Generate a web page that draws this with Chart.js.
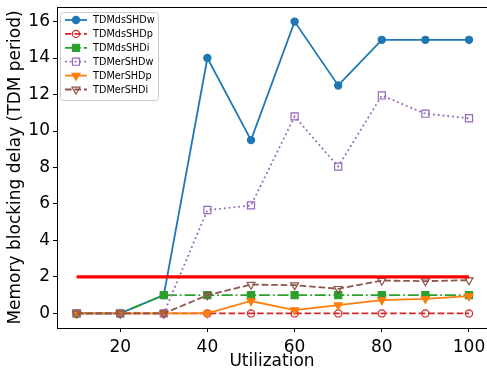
<!DOCTYPE html>
<html>
<head>
<meta charset="utf-8">
<script src="https://cdn.jsdelivr.net/npm/chart.js@4.4.1/dist/chart.umd.min.js"></script>
<style>
  html, body { margin: 0; padding: 0; background: #fff; overflow: hidden; }
  #wrap { width: 487px; height: 370px; }
  canvas { display: block; }
</style>
</head>
<body>
<div id="wrap"><canvas id="delaychart" width="487" height="370"></canvas></div>
<script>
const utilization = [10, 20, 30, 40, 50, 60, 70, 80, 90, 100];
const tdmdsShdW = [0, 0, 1, 14, 9.5, 16, 12.5, 15, 15, 15];
const tdmdsShdP = [0, 0, 0, 0, 0, 0, 0, 0, 0, 0];
const tdmdsShdI = [0, 0, 1, 1, 1, 1, 1, 1, 1, 1];
const tdmerShdW = [0, 0, 0, 5.67, 5.92, 10.8, 8.05, 11.95, 10.95, 10.7];
const tdmerShdP = [0, 0, 0, 0, 0.68, 0.18, 0.45, 0.73, 0.8, 0.95];
const tdmerShdI = [0, 0, 0, 1, 1.58, 1.55, 1.35, 1.8, 1.77, 1.82];
const limitX = [10, 100];
const limitY = [2, 2];
const yTicks = [0, 2, 4, 6, 8, 10, 12, 14, 16];
const xTicks = [20, 40, 60, 80, 100];

const pts = (xs, ys) => xs.map((x, i) => ({x: x, y: ys[i]}));
const FONT = "'DejaVu Sans', sans-serif";

const series = [
    {label: 'TDMdsSHDw', data: tdmdsShdW, color: '#1f77b4', dash: [], style: 'circle', r: 3.6, fill: true, rot: 0},
    {label: 'TDMdsSHDp', data: tdmdsShdP, color: '#d62728', dash: [6.6, 2.9], style: 'circle', r: 3.6, fill: false, rot: 0},
    {label: 'TDMdsSHDi', data: tdmdsShdI, color: '#2ca02c', dash: [11, 2.9, 1.8, 2.9], style: 'rect', r: 5, fill: true, rot: 0},
    {label: 'TDMerSHDw', data: tdmerShdW, color: '#9467bd', dash: [1.8, 3], style: 'rect', r: 5, fill: false, rot: 0},
    {label: 'TDMerSHDp', data: tdmerShdP, color: '#ff7f0e', dash: [], style: 'triangle', r: 4.6, fill: true, rot: 180},
    {label: 'TDMerSHDi', data: tdmerShdI, color: '#8c564b', dash: [6.6, 2.9], style: 'triangle', r: 4.6, fill: false, rot: 180}
];

const datasets = series.map((s, i) => ({
    label: s.label,
    data: pts(utilization, s.data),
    borderColor: s.color,
    backgroundColor: s.fill ? s.color : 'rgba(0,0,0,0)',
    borderWidth: 1.8,
    borderDash: s.dash,
    pointStyle: s.style,
    pointRadius: s.r,
    pointRotation: s.rot,
    pointBorderWidth: 1.2,
    pointBorderColor: s.color,
    pointBackgroundColor: s.fill ? s.color : 'rgba(0,0,0,0)',
    tension: 0,
    order: 20 - i
}));
datasets.push({
    label: 'limit',
    data: pts(limitX, limitY),
    borderColor: '#ff0000',
    borderWidth: 3.3,
    pointRadius: 0,
    tension: 0,
    order: 1
});

// matplotlib-like legend box with line + marker samples, and the top spine
const mplLegend = {
    id: 'mplLegend',
    afterDraw(chart) {
        const ctx = chart.ctx;
        const a = chart.chartArea;
        ctx.save();
        // the right spine sits just past the canvas edge in the reference
        ctx.fillStyle = '#fff';
        ctx.fillRect(a.right - 2, a.top + 2, 2, a.bottom - a.top - 3);

        ctx.strokeStyle = '#000';
        ctx.lineWidth = 1;
        ctx.beginPath();
        ctx.moveTo(a.left, a.top + 0.5);
        ctx.lineTo(a.right, a.top + 0.5);
        ctx.stroke();

        const bx = 60.5, by = 12.5, bw = 98, bh = 88;
        ctx.fillStyle = 'rgba(255,255,255,0.8)';
        ctx.strokeStyle = '#cccccc';
        ctx.lineWidth = 1;
        ctx.beginPath();
        ctx.roundRect(bx, by, bw, bh, 3);
        ctx.fill();
        ctx.stroke();

        ctx.font = '9.7px ' + FONT;
        ctx.textBaseline = 'middle';
        series.forEach((s, i) => {
            const y = 20 + i * 13.9;
            ctx.strokeStyle = s.color;
            ctx.lineWidth = 1.8;
            ctx.setLineDash(s.dash);
            ctx.beginPath();
            ctx.moveTo(65, y);
            ctx.lineTo(87, y);
            ctx.stroke();
            ctx.setLineDash([]);
            ctx.fillStyle = s.fill ? s.color : 'rgba(0,0,0,0)';
            ctx.lineWidth = 1.2;
            Chart.helpers.drawPoint(ctx, {pointStyle: s.style, rotation: s.rot, radius: s.r, borderWidth: 1.2}, 76, y);
            ctx.fillStyle = '#000';
            ctx.fillText(s.label, 93, y + 0.5);
        });
        ctx.restore();
    }
};

const ctx = document.getElementById('delaychart').getContext('2d');
const delaychart = new Chart(ctx, {
    type: 'line',
    data: {datasets: datasets},
    plugins: [mplLegend],
    options: {
        responsive: false,
        animation: false,
        layout: {autoPadding: false, padding: {top: 7, right: 0, left: 5, bottom: 0}},
        plugins: {
            legend: {display: false},
            tooltip: {enabled: false}
        },
        scales: {
            x: {
                type: 'linear',
                min: 5.5,
                max: 104.13,
                afterFit: (scale) => {
                    scale.height = 42;
                    scale.paddingLeft = 0;
                    scale.paddingRight = 0;
                },
                afterBuildTicks: (scale) => { scale.ticks = xTicks.map(v => ({value: v})); },
                grid: {drawOnChartArea: false, drawTicks: true, tickLength: 4, color: '#000'},
                border: {color: '#000', width: 1},
                ticks: {color: '#000', font: {family: FONT, size: 17}, padding: 5, maxRotation: 0},
                title: {display: true, text: 'Utilization', color: '#000', font: {family: FONT, size: 17}, padding: {top: 3, bottom: -2}}
            },
            y: {
                min: -0.8,
                max: 16.8,
                afterFit: (scale) => {
                    scale.width = 52;
                    scale.paddingTop = 0;
                    scale.paddingBottom = 0;
                },
                afterBuildTicks: (scale) => { scale.ticks = yTicks.map(v => ({value: v})); },
                grid: {drawOnChartArea: false, drawTicks: true, tickLength: 4, color: '#000'},
                border: {color: '#000', width: 1},
                ticks: {color: '#000', font: {family: FONT, size: 17}, padding: 3},
                title: {display: true, text: 'Memory blocking delay (TDM period)', color: '#000', font: {family: FONT, size: 17}, padding: {top: 0, bottom: 2}}
            }
        }
    }
});
</script>
</body>
</html>
